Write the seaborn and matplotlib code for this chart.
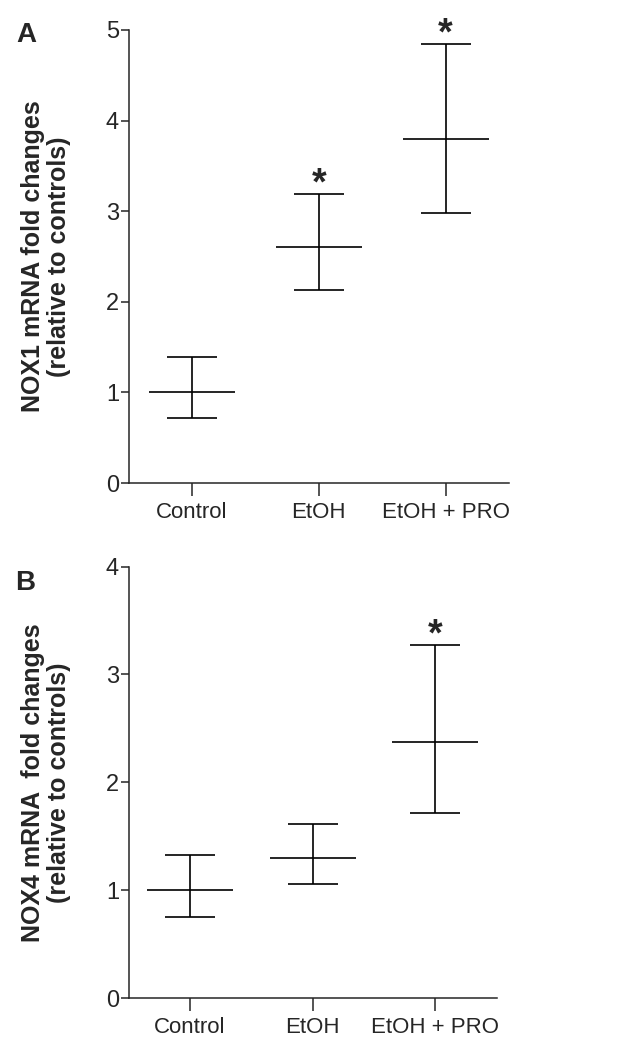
import numpy as np
import pandas as pd
import matplotlib
matplotlib.use("Agg")
import matplotlib.pyplot as plt
import seaborn as sns

# data (mean, lower and upper ends of the error bars)
groups = ["Control", "EtOH", "EtOH + PRO"]

nox1_mean = [1.00, 2.60, 3.80]
nox1_low = [0.72, 2.13, 2.98]
nox1_high = [1.39, 3.19, 4.84]
nox1_sig = [False, True, True]

nox4_mean = [1.00, 1.30, 2.37]
nox4_low = [0.75, 1.055, 1.72]
nox4_high = [1.33, 1.61, 3.27]
nox4_sig = [False, False, True]

sns.set_style("ticks")
plt.rcParams["font.family"] = ["Liberation Sans", "DejaVu Sans"]
plt.rcParams["axes.linewidth"] = 1.1

fig = plt.figure(figsize=(6.21, 10.48), dpi=100)
ax1 = fig.add_axes([0.2072, 0.5391, 0.6124, 0.4323])
ax2 = fig.add_axes([0.2072, 0.0477, 0.5926, 0.4116])


def draw_panel(ax, mean, low, high, sig, ymax, ylabel):
    df = pd.DataFrame({"group": groups, "mean": mean, "low": low, "high": high})
    # mean shown as a horizontal line
    sns.scatterplot(data=df, x="group", y="mean", marker="_", s=62 ** 2,
                    color="black", linewidth=1.2, ax=ax, legend=False, zorder=3)
    xpos = np.arange(len(groups))
    yerr = [df["mean"] - df["low"], df["high"] - df["mean"]]
    ax.errorbar(xpos, df["mean"], yerr=yerr, fmt="none", ecolor="black",
                elinewidth=1.2, capsize=18, capthick=1.2)
    for x, h, s in zip(xpos, df["high"], sig):
        if s:
            ax.annotate("*", (x, h), xytext=(0, -6), textcoords="offset points",
                        ha="center", va="bottom", fontsize=27,
                        fontweight="bold", annotation_clip=False)
    ax.set_xlim(-0.5, 2.5)
    ax.set_ylim(0, ymax)
    ax.set_yticks(range(0, ymax + 1))
    ax.set_xlabel("")
    ax.set_ylabel(ylabel, fontsize=18, fontweight="bold", labelpad=25,
                  linespacing=1.1)
    ax.tick_params(axis="y", length=6, width=1.1, labelsize=17, pad=1)
    ax.tick_params(axis="x", length=9, width=1.1, labelsize=16, pad=5)
    sns.despine(ax=ax)


draw_panel(ax1, nox1_mean, nox1_low, nox1_high, nox1_sig, 5,
           "NOX1 mRNA fold changes\n(relative to controls)")
draw_panel(ax2, nox4_mean, nox4_low, nox4_high, nox4_sig, 4,
           "NOX4 mRNA  fold changes\n(relative to controls)")

fig.text(0.027, 0.979, "A", fontsize=20, fontweight="bold", ha="left", va="top")
fig.text(0.024, 0.456, "B", fontsize=20, fontweight="bold", ha="left", va="top")

fig.savefig("out.png", dpi=100)
